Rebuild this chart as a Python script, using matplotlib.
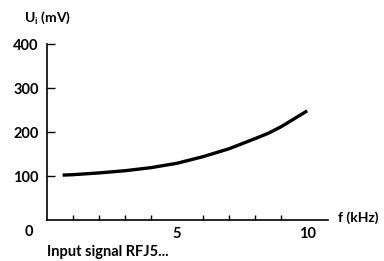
import matplotlib
matplotlib.use("Agg")
import matplotlib.pyplot as plt

# curve
freq = [0.6, 1, 2, 3, 4, 5, 6, 7, 8, 8.5, 9, 10]
u_in = [102, 103, 107, 112, 119, 129, 144, 162, 185, 197, 212, 248]

y_ticks = [100, 200, 300, 400]
x_major = [5, 10]
x_minor = [1, 2, 3, 4, 6, 7, 8, 9]

plt.rcParams['font.family'] = ['Lato', 'DejaVu Sans']
plt.rcParams['font.weight'] = 'bold'

fig = plt.figure(figsize=(3.84, 2.61), dpi=100)
ax = fig.add_axes([47/384, 41/261, 281/384, 176/261])

ax.plot(freq, u_in, color='black', lw=2.4, solid_capstyle='butt')

ax.set_xlim(0, 10.8)
ax.set_ylim(0, 400)
ax.spines['top'].set_visible(False)
ax.spines['right'].set_visible(False)
for s in ('left', 'bottom'):
    ax.spines[s].set_linewidth(1.2)

ax.set_yticks(y_ticks)
ax.set_yticklabels([str(v) for v in y_ticks], fontsize=10.5, fontweight='bold')
ax.tick_params(axis='y', direction='in', length=5.5, width=1.0, pad=6)

ax.set_xticks(x_major)
ax.set_xticklabels([str(v) for v in x_major], fontsize=10.5, fontweight='bold')
ax.set_xticks(x_minor, minor=True)
ax.tick_params(axis='x', which='major', length=0, pad=5)
ax.tick_params(axis='x', which='minor', direction='in', length=3.5, width=1.0)

ax.annotate('0', xy=(0, 0), xycoords='axes fraction', xytext=(-18, -12),
            textcoords='offset pixels', ha='center', va='center',
            fontsize=10.5, fontweight='bold')
ax.annotate('f (kHz)', xy=(1, 0), xycoords='axes fraction', xytext=(10, 2),
            textcoords='offset pixels', ha='left', va='center',
            fontsize=10, fontweight='bold')

fig.text(24/384, 1 - 18/261, r'U$_{\mathregular{i}}$ (mV)', ha='left', va='center',
         fontsize=10, fontweight='bold')
fig.text(47/384, 1 - 252/261, 'Input signal RFJ5...', ha='left', va='center',
         fontsize=10.5, fontweight='bold')

fig.savefig('out.png', dpi=100)
